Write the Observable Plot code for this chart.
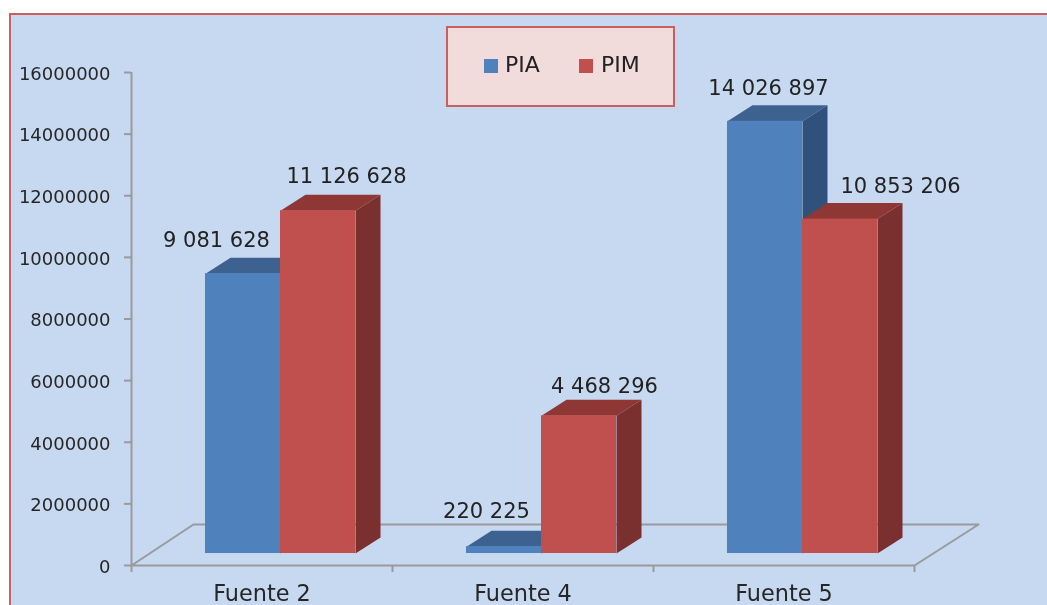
<!DOCTYPE html>
<html><head><meta charset="utf-8">
<script src="https://cdn.jsdelivr.net/npm/d3@7"></script>
<script src="https://cdn.jsdelivr.net/npm/@observablehq/plot@0.6"></script>
<style>
html,body{margin:0;padding:0;background:#fff;width:1047px;height:605px;overflow:hidden}
#panel{position:absolute;left:9px;top:13px;right:-5px;bottom:-5px;background:#c6d9f1;border:2px solid #c9605d}
#chart{position:absolute;left:0;top:0;filter:blur(0.4px)}
#legend{position:absolute;left:446px;top:26px;width:225px;height:77px;background:#f2dcdb;border:2px solid #c9605d;font:22px "DejaVu Sans",sans-serif;color:#222;filter:blur(0.4px)}
#legend span{position:absolute;top:24px}
#legend i{position:absolute;top:31px;width:14px;height:14px}
</style></head><body>
<div id="panel"></div><div id="chart"></div>
<div id="legend"><i style="left:36px;background:#4f81bd"></i><span style="left:57px">PIA</span><i style="left:131px;background:#c0504d"></i><span style="left:153px">PIM</span></div>
<script>
const categories = ["Fuente 2", "Fuente 4", "Fuente 5"];
const pia = [9081628, 220225, 14026897];
const pim = [11126628, 4468296, 10853206];
const labels = {PIA: ["9 081 628", "220 225", "14 026 897"], PIM: ["11 126 628", "4 468 296", "10 853 206"]};
const yTicks = [0, 2000000, 4000000, 6000000, 8000000, 10000000, 12000000, 14000000, 16000000];

const barW = 0.2874, depthX = 0.0958, depthY = 519000;
const floorX = 0.2375, floorY = 1330000;
const shiftX = 18.5, shiftY = -12;
const colors = {
  PIA: {front: "#4f81bd", top: "#3d628f", side: "#30527a"},
  PIM: {front: "#c0504d", top: "#8e3735", side: "#7a302e"}
};
const bars = categories.flatMap((c, i) => [
  {series: "PIA", i, v: pia[i], x1: i + 0.5 - barW, x2: i + 0.5, label: labels.PIA[i]},
  {series: "PIM", i, v: pim[i], x1: i + 0.5, x2: i + 0.5 + barW, label: labels.PIM[i]}
]);
const sideFace = b => [[b.x2, 0], [b.x2 + depthX, depthY], [b.x2 + depthX, b.v + depthY], [b.x2, b.v]];
const topFace = b => [[b.x1, b.v], [b.x1 + depthX, b.v + depthY], [b.x2 + depthX, b.v + depthY], [b.x2, b.v]];
const poly = (b, fn, key) => fn(b).map(([x, y]) => ({x, y, id: b.series + b.i + key}));
const floor = [[0, 0], [floorX, floorY], [3 + floorX + 0.008, floorY], [3, 0], [0, 0]].map(([x, y]) => ({x, y}));
const offsets = [[-8, -45], [47, -46], [1, -47], [44, -42], [22, -45], [79, -45]];

const seriesMarks = s => {
  const d = bars.filter(b => b.series === s);
  const c = colors[s];
  const o = {dx: shiftX, dy: shiftY};
  return [
    Plot.line(d.flatMap(b => poly(b, sideFace, "s")), {x: "x", y: "y", z: "id", fill: c.side, stroke: "none", ...o}),
    Plot.line(d.flatMap(b => poly(b, topFace, "t")), {x: "x", y: "y", z: "id", fill: c.top, stroke: "none", ...o}),
    Plot.rectY(d, {x1: "x1", x2: "x2", y1: 0, y2: "v", fill: c.front, ...o})
  ];
};

const font = '"DejaVu Sans", sans-serif';
const plot = Plot.plot({
  width: 1047, height: 605,
  marginLeft: 131, marginRight: 133, marginTop: 72, marginBottom: 40,
  style: {background: "transparent", fontFamily: font, color: "#262626"},
  x: {domain: [0, 3]},
  y: {domain: [0, 16000000]},
  marks: [
    Plot.line(floor, {x: "x", y: "y", stroke: "#9a9a9a", strokeWidth: 2}),
    Plot.ruleX([0], {stroke: "#9a9a9a", strokeWidth: 2}),
    Plot.axisY({ticks: yTicks, tickFormat: () => "", tickSize: 7, label: null, stroke: "#9a9a9a", strokeWidth: 2}),
    Plot.axisY({ticks: yTicks, tickFormat: d3.format("d"), tickSize: 0, tickPadding: 21, label: null, fontSize: 18, dy: 1.5}),
    Plot.axisX({ticks: [0, 1, 2, 3], tickFormat: () => "", tickSize: 7, label: null, stroke: "#9a9a9a", strokeWidth: 2}),
    Plot.axisX({ticks: [0.5, 1.5, 2.5], tickFormat: d => categories[Math.floor(d)], tickSize: 0, tickPadding: 20, label: null, fontSize: 22.4}),
    ...seriesMarks("PIA"),
    ...seriesMarks("PIM"),
    ...bars.map((b, k) => Plot.text([b], {
      x: d => (d.x1 + d.x2) / 2, y: "v", text: "label",
      dx: offsets[k][0], dy: offsets[k][1], fontSize: 21, fill: "#222", fontFamily: font
    }))
  ]
});
document.getElementById("chart").append(plot);
</script></body></html>
